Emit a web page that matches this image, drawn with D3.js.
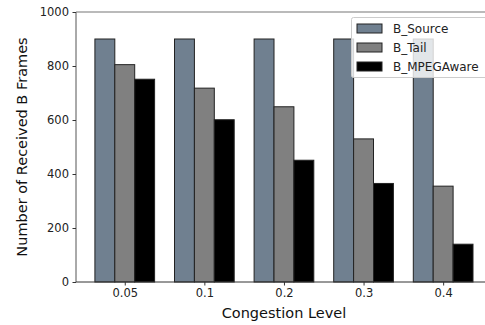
<!DOCTYPE html>
<html><head><meta charset="utf-8">
<script src="https://cdn.jsdelivr.net/npm/d3@7"></script>
<style>body{margin:0;background:#fff}svg{display:block;font-family:"DejaVu Sans",sans-serif}</style>
</head><body><svg id="c" width="485" height="325"></svg>
<script>
const categories = ["0.05","0.1","0.2","0.3","0.4"];
const seriesNames = ["B_Source","B_Tail","B_MPEGAware"];
const bSource = [900,900,900,900,900];
const bTail = [805,718,649,530,355];
const bMPEGAware = [751,601,451,365,140];
const yTicks = [0,200,400,600,800,1000];
const colors = ["#708090","#808080","#000000"];

const series = [bSource,bTail,bMPEGAware];
const svg = d3.select("#c");
const L=76, T=12, B=282;
const x = d3.scaleLinear().domain([-0.6125,4.6125]).range([L, L+ (4.6125+0.6125)*79.6]);
const y = d3.scaleLinear().domain([0,1000]).range([B,T]);
const bw = 0.25;

const g = svg.append("g");
series.forEach((vals,si)=>{
  g.selectAll(null).data(vals).enter().append("rect")
    .attr("x",(d,i)=>x(i+(si-1)*bw-bw/2))
    .attr("width",(d,i)=>x(i+(si-1)*bw+bw/2)-x(i+(si-1)*bw-bw/2))
    .attr("y",d=>y(d)).attr("height",d=>B-y(d))
    .attr("fill",colors[si]).attr("stroke","#222").attr("stroke-width",1);
});

// spines
svg.append("line").attr("x1",L).attr("x2",L).attr("y1",T).attr("y2",B).attr("stroke","#555").attr("stroke-width",1);
svg.append("line").attr("x1",L).attr("x2",485).attr("y1",T).attr("y2",T).attr("stroke","#777").attr("stroke-width",1.2);
svg.append("line").attr("x1",L).attr("x2",485).attr("y1",B).attr("y2",B).attr("stroke","#333").attr("stroke-width",1);

const yAxis = d3.axisLeft(y).tickValues(yTicks).tickSize(3.5).tickPadding(3.5).tickFormat(d3.format("d"));
const ya = svg.append("g").attr("transform",`translate(${L},0)`).call(yAxis);
ya.select(".domain").remove();
ya.selectAll("text").attr("font-size",11.5).attr("fill","#222").attr("font-family","DejaVu Sans");
ya.selectAll("line").attr("stroke","#333");

const xAxis = d3.axisBottom(x).tickValues(d3.range(categories.length)).tickSize(3.5).tickPadding(3.5).tickFormat(i=>categories[i]);
const xa = svg.append("g").attr("transform",`translate(0,${B})`).call(xAxis);
xa.select(".domain").remove();
xa.selectAll("text").attr("font-size",11.5).attr("fill","#222").attr("font-family","DejaVu Sans");
xa.selectAll("line").attr("stroke","#333");

svg.append("text").attr("x",x(2)).attr("y",318).attr("text-anchor","middle").attr("font-size",14.5).attr("fill","#111").text("Congestion Level");
svg.append("text").attr("transform",`translate(27,${(T+B)/2}) rotate(-90)`).attr("text-anchor","middle").attr("font-size",14.5).attr("fill","#111").text("Number of Received B Frames");

// legend
const lg = svg.append("g");
lg.append("rect").attr("x",351.5).attr("y",17.5).attr("width",140).attr("height",60).attr("rx",2)
  .attr("fill","#fff").attr("fill-opacity",0.8).attr("stroke","#ccc").attr("stroke-width",1);
seriesNames.forEach((n,i)=>{
  const cy = 28+i*19;
  lg.append("rect").attr("x",357).attr("y",cy-4).attr("width",25).attr("height",9).attr("fill",colors[i]).attr("stroke","#222").attr("stroke-width",1);
  lg.append("text").attr("x",393).attr("y",cy+4.5).attr("font-size",12).attr("fill","#222").text(n);
});
</script></body></html>
